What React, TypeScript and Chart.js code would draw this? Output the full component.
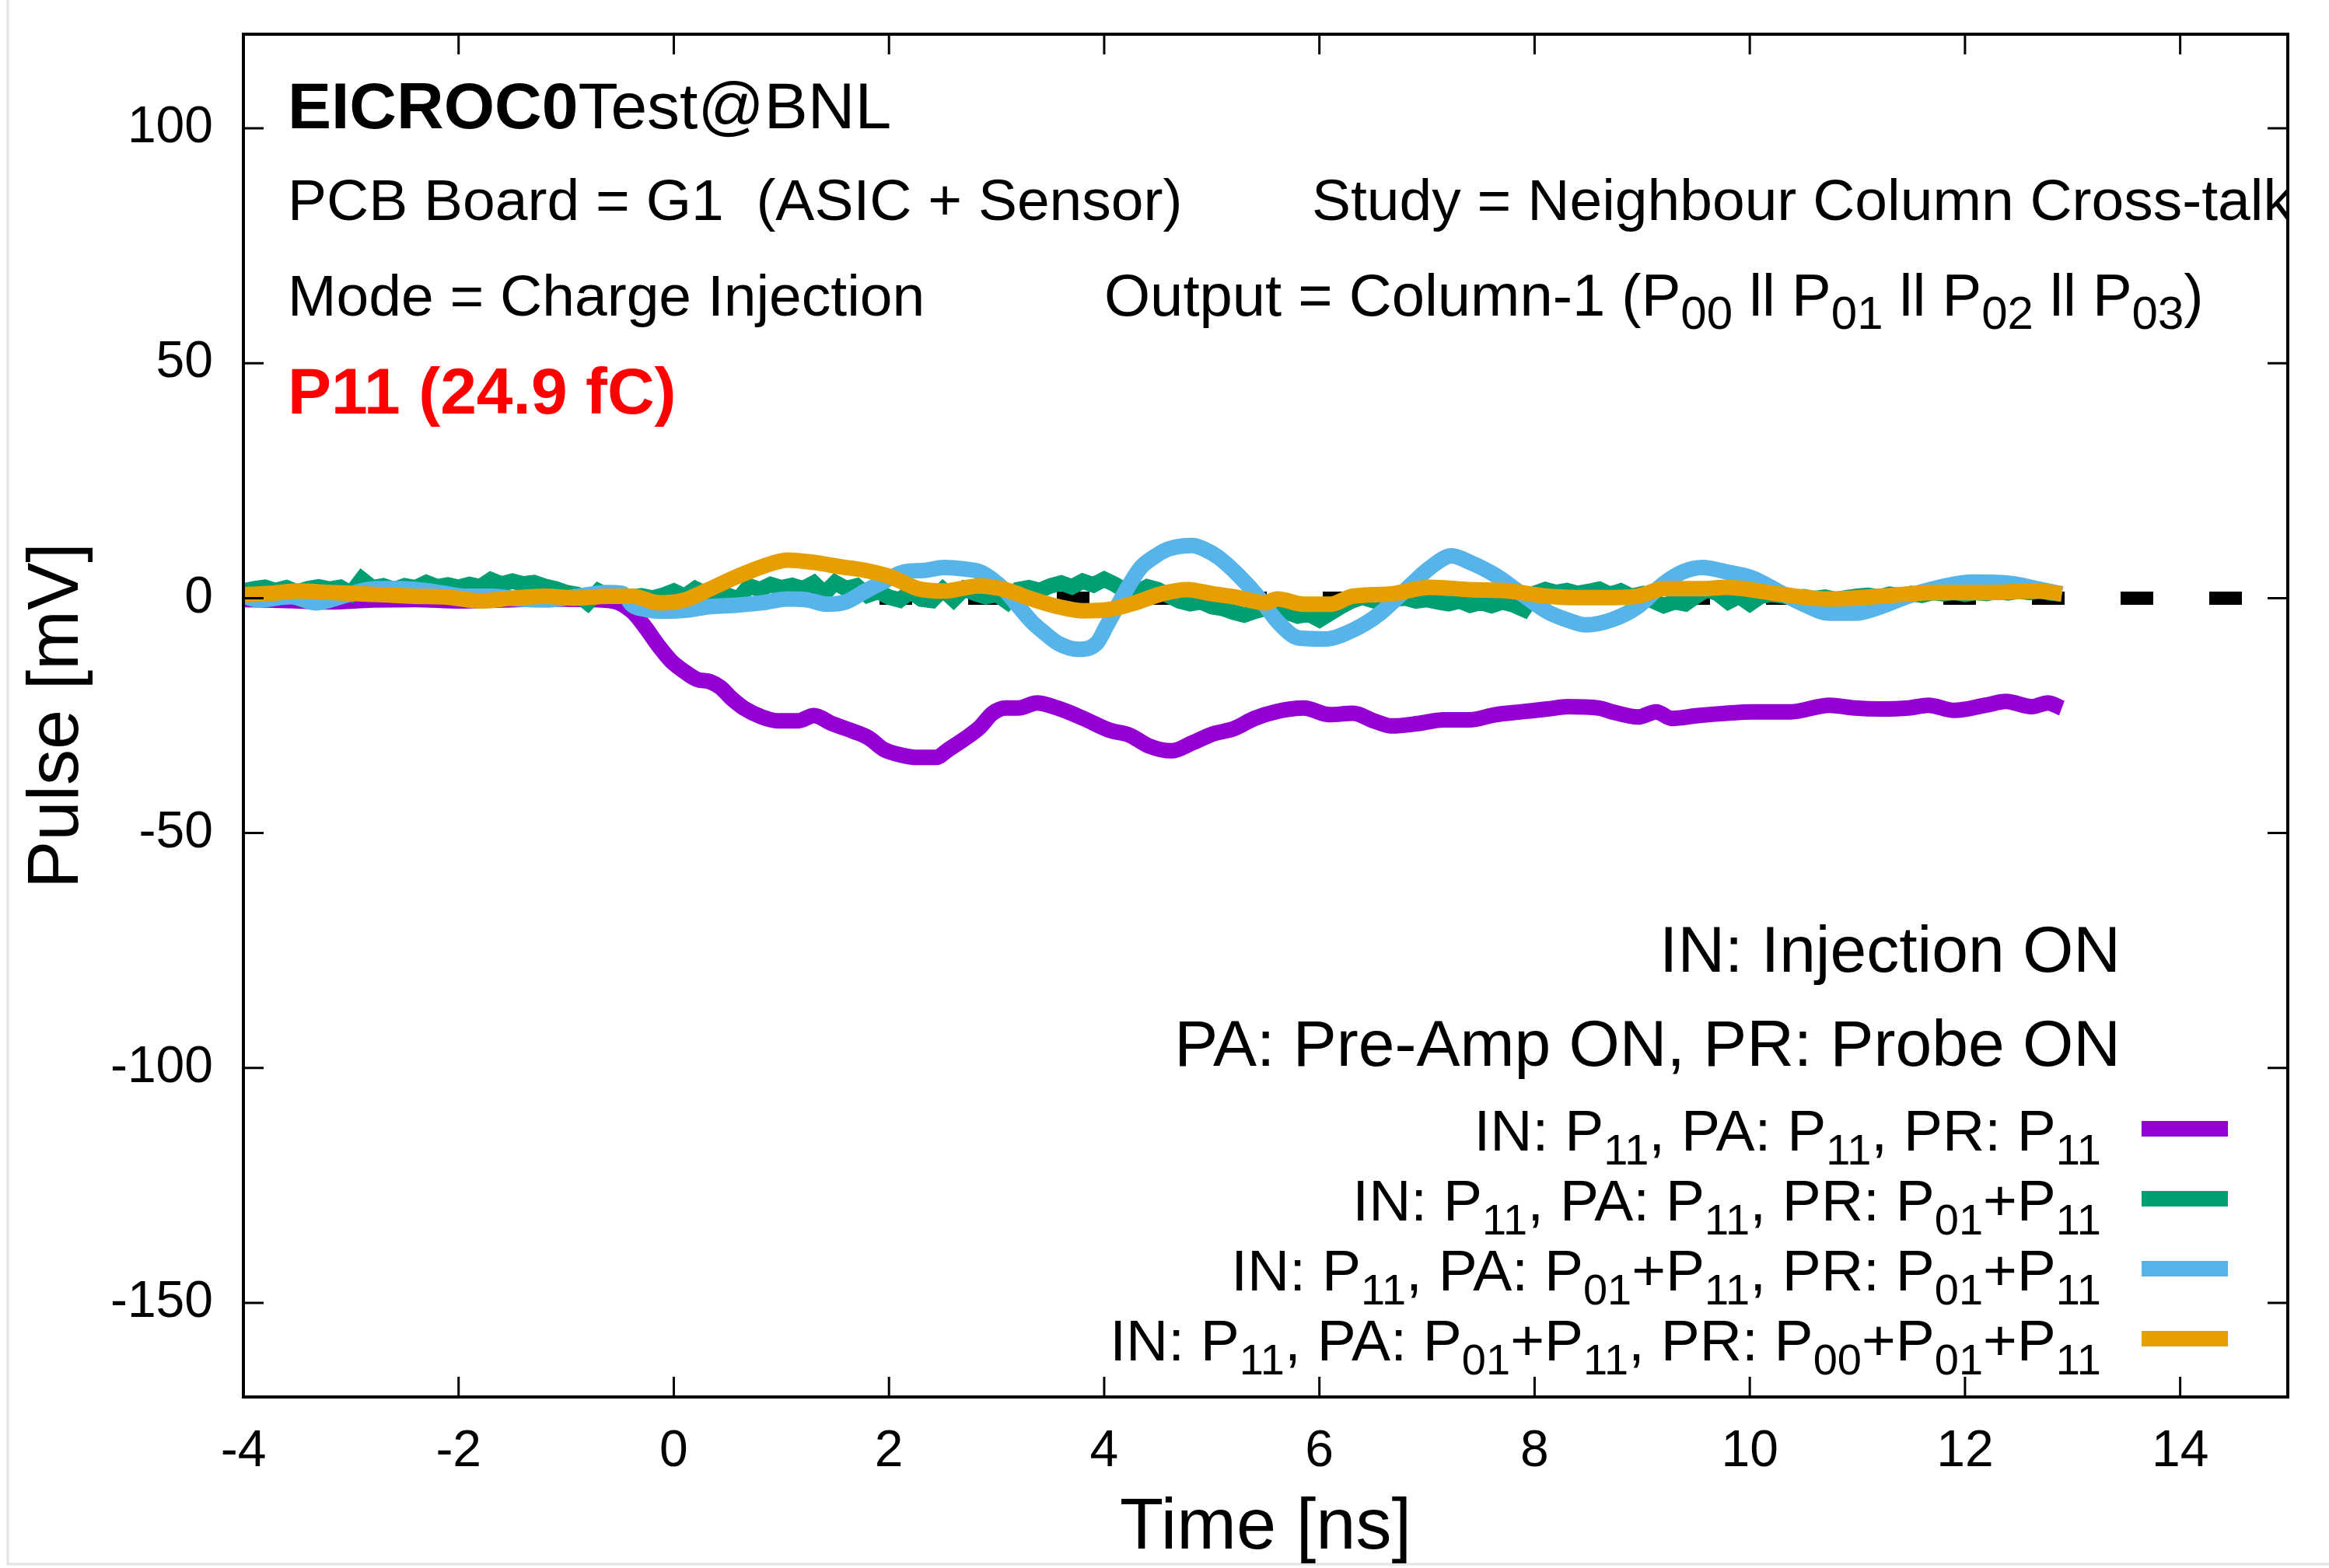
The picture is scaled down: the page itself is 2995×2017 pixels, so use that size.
import React, { useEffect, useRef } from "react";
import { Chart, registerables } from "chart.js";

Chart.register(...registerables);

const FONT = '"Liberation Sans", Arial, Helvetica, sans-serif';

// Axis ticks
const X_TICKS = [-4, -2, 0, 2, 4, 6, 8, 10, 12, 14];
const Y_TICKS = [-150, -100, -50, 0, 50, 100];
const X_RANGE = [-4, 15];
const Y_RANGE = [-170, 120];

// Zero reference line
const ZERO_T = [-4, 15];
const ZERO_V = [0, 0];

// IN: P11, PA: P11, PR: P11 (purple)
const PURPLE_T = [-4.0, -3.6, -3.2, -2.8, -2.4, -2.0, -1.6, -1.2, -0.8, -0.55, -0.385, -0.265, -0.144, -0.024, 0.097, 0.217, 0.338, 0.434, 0.53, 0.651, 0.82, 0.964, 1.157, 1.302, 1.47, 1.663, 1.808, 1.952, 2.097, 2.266, 2.434, 2.555, 2.7, 2.843, 2.963, 3.084, 3.204, 3.373, 3.566, 3.807, 4.048, 4.24, 4.409, 4.626, 4.819, 5.012, 5.204, 5.397, 5.59, 5.855, 6.096, 6.313, 6.504, 6.672, 6.913, 7.154, 7.395, 7.636, 7.877, 8.118, 8.311, 8.6, 8.72, 8.962, 9.13, 9.275, 9.516, 9.781, 10.02, 10.38, 10.74, 10.98, 11.22, 11.47, 11.66, 11.9, 12.19, 12.38, 12.62, 12.77, 12.9];
const PURPLE_V = [-0.3, -0.5, -0.8, -0.4, -0.3, -0.6, -0.4, -0.2, -0.3, -0.7, -2.9, -6.2, -10.1, -13.4, -15.6, -17.3, -17.8, -19.0, -21.2, -23.4, -25.3, -26.1, -26.1, -25.0, -26.7, -28.3, -29.7, -32.2, -33.3, -33.9, -33.9, -32.2, -30.0, -27.5, -24.5, -23.4, -23.4, -22.3, -23.4, -25.6, -28.1, -29.2, -31.4, -32.5, -30.8, -28.9, -27.8, -25.6, -24.2, -23.4, -24.8, -24.5, -26.1, -27.2, -26.7, -25.9, -25.9, -24.8, -24.2, -23.6, -23.1, -23.4, -24.2, -25.3, -24.2, -25.6, -25.0, -24.5, -24.2, -24.2, -22.8, -23.4, -23.6, -23.4, -22.8, -23.9, -22.8, -22.0, -23.1, -22.3, -23.4];

// IN: P11, PA: P11, PR: P01+P11 (green)
const GREEN_T = [
  -4.0, -3.9, -3.8, -3.7, -3.6, -3.5, -3.4, -3.3, -3.2, -3.1,
  -3.0, -2.9, -2.8, -2.7, -2.6, -2.5, -2.4, -2.3, -2.2, -2.1,
  -2.0, -1.9, -1.8, -1.7, -1.6, -1.5, -1.4, -1.3, -1.2, -1.1,
  -1.0, -0.9, -0.8, -0.7, -0.6, -0.5, -0.4, -0.3, -0.2, -0.1,
  0.0, 0.1, 0.2, 0.3, 0.4, 0.5, 0.6, 0.7, 0.8, 0.9,
  1.0, 1.1, 1.2, 1.3, 1.4, 1.5, 1.6, 1.7, 1.8, 1.9,
  2.0, 2.1, 2.2, 2.3, 2.4, 2.5, 2.6, 2.7, 2.8, 2.9,
  3.0, 3.1, 3.2, 3.3, 3.4, 3.5, 3.6, 3.7, 3.8, 3.9,
  4.0, 4.1, 4.2, 4.3, 4.4, 4.5, 4.6, 4.7, 4.8, 4.9,
  5.0, 5.1, 5.2, 5.3, 5.4, 5.5, 5.6, 5.7, 5.8, 5.9,
  6.0, 6.1, 6.2, 6.3, 6.4, 6.5, 6.6, 6.7, 6.8, 6.9,
  7.0, 7.1, 7.2, 7.3, 7.4, 7.5, 7.6, 7.7, 7.8, 7.9,
  8.0, 8.1, 8.2, 8.3, 8.4, 8.5, 8.6, 8.7, 8.8, 8.9,
  9.0, 9.1, 9.2, 9.3, 9.4, 9.5, 9.6, 9.7, 9.8, 9.9,
  10.0, 10.1, 10.2, 10.3, 10.4, 10.5, 10.6, 10.7, 10.8, 10.9,
  11.0, 11.1, 11.2, 11.3, 11.4, 11.5, 11.6, 11.7, 11.8, 11.9,
  12.0, 12.1, 12.2, 12.3, 12.4, 12.5, 12.6, 12.7, 12.8, 12.9,
];
const GREEN_V = [
  1.5, 2.0, 2.3, 1.6, 2.2, 1.3, 2.0, 2.4, 1.9, 2.3,
  1.0, 4.0, 2.2, 2.6, 1.8, 2.6, 2.2, 3.3, 2.4, 2.8,
  2.3, 2.9, 2.4, 3.9, 3.0, 3.6, 3.0, 3.3, 2.5, 2.0,
  1.2, 0.8, -1.0, 1.5, 0.4, 0.8, 0.2, 0.5, 0.0, 0.6,
  1.5, 0.4, 2.0, 0.9, 1.4, 0.6, -0.2, 2.6, 1.8, 2.9,
  2.2, 2.7, 2.0, 3.2, 1.0, 3.3, 2.0, 2.6, 0.6, 1.4,
  0.2, -0.4, 1.4, -0.2, -0.5, 1.8, -0.3, 2.0, 1.0, 0.3,
  0.8, -0.8, 1.8, 2.2, 1.6, 2.6, 3.2, 2.4, 3.6, 2.8,
  4.0, 2.9, 1.5, 1.2, 2.4, 1.8, 0.5, -0.6, -1.2, -0.8,
  -1.8, -2.2, -3.0, -3.6, -2.8, -2.2, -2.6, -3.0, -3.8, -3.4,
  -4.6, -3.2, -1.8, -0.6, 0.2, -0.5, 0.3, -0.2, 0.0, -0.6,
  -0.3, -0.8, -1.2, -0.6, -1.5, -0.9, -1.6, -0.8, -1.4, -2.4,
  1.0, 1.8, 1.2, 1.6, 1.0, 1.4, 1.9, 0.8, 1.5, 0.4,
  0.9, -0.6, -1.6, -0.8, -1.2, 0.4, 1.8, 1.0, -0.8, 0.4,
  -1.2, 0.4, 0.8, 0.5, 0.1, 0.3, -0.1, 0.2, -0.3, 0.1,
  0.4, 0.6, 0.2, 0.8, 0.5, 1.0, 0.6, 1.2, 0.9, 1.3,
  0.8, 1.2, 1.0, 1.4, 1.1, 1.5, 1.2, 1.6, 1.1, 0.9,
];

// IN: P11, PA: P01+P11, PR: P01+P11 (blue)
const BLUE_T = [-4.0, -3.85, -3.56, -3.32, -3.08, -2.77, -2.53, -2.26, -1.93, -1.68, -1.44, -1.2, -0.89, -0.626, -0.48, -0.385, -0.265, -0.1, 0.1, 0.34, 0.58, 0.82, 1.06, 1.25, 1.42, 1.6, 1.78, 1.95, 2.145, 2.33, 2.51, 2.7, 2.843, 2.96, 3.084, 3.204, 3.33, 3.45, 3.57, 3.76, 3.93, 4.02, 4.12, 4.22, 4.34, 4.46, 4.58, 4.7, 4.82, 4.94, 5.06, 5.25, 5.45, 5.615, 5.81, 6.05, 6.313, 6.55, 6.79, 7.03, 7.23, 7.4, 7.64, 7.88, 8.12, 8.3, 8.48, 8.72, 8.96, 9.2, 9.38, 9.56, 9.78, 10.02, 10.26, 10.5, 10.74, 10.98, 11.22, 11.47, 11.71, 12.07, 12.43, 12.67, 12.9];
const BLUE_V = [0.4, -0.4, 0.3, -1.0, 0.4, 2.0, 2.0, 1.5, 0.4, 0.4, -0.2, -0.4, 0.4, 1.2, 1.0, -1.5, -2.4, -2.8, -2.6, -1.8, -1.5, -1.0, -0.2, -0.4, -1.3, -0.8, 1.5, 3.5, 5.6, 5.9, 6.5, 6.2, 5.6, 4.0, 1.5, -1.8, -5.1, -7.5, -9.6, -10.9, -9.6, -6.0, -1.8, 2.3, 6.5, 8.7, 10.3, 11.0, 11.2, 10.3, 8.7, 4.8, -0.2, -5.1, -8.5, -8.7, -6.8, -3.5, 1.5, 6.5, 9.0, 7.6, 4.8, 0.9, -2.9, -4.6, -5.7, -4.6, -1.8, 3.1, 5.6, 6.5, 5.6, 4.3, 1.5, -1.3, -3.2, -3.2, -1.8, 0.4, 2.0, 3.4, 3.1, 2.0, 0.9];

// IN: P11, PA: P01+P11, PR: P00+P01+P11 (orange)
const ORANGE_T = [-4.0, -3.75, -3.49, -3.2, -2.89, -2.6, -2.41, -2.1, -1.8, -1.5, -1.2, -0.9, -0.626, -0.385, -0.14, 0.1, 0.34, 0.58, 0.82, 1.06, 1.3, 1.54, 1.78, 2.02, 2.27, 2.51, 2.84, 3.08, 3.33, 3.57, 3.81, 4.05, 4.29, 4.53, 4.77, 5.01, 5.25, 5.49, 5.61, 5.855, 6.1, 6.31, 6.67, 7.03, 7.4, 7.76, 8.12, 8.48, 8.72, 8.96, 9.2, 9.56, 9.78, 10.26, 10.74, 11.22, 11.71, 12.19, 12.67, 12.9];
const ORANGE_V = [0.7, 1.0, 1.5, 1.2, 0.9, 0.6, 0.4, 0.2, -0.6, 0.0, 0.4, 0.0, 0.4, 0.4, -1.0, -0.4, 2.0, 4.5, 6.7, 8.1, 7.6, 6.7, 5.9, 4.5, 2.0, 1.5, 2.6, 1.8, -0.2, -1.8, -2.7, -2.4, -1.0, 0.9, 1.8, 0.9, 0.1, -1.0, -0.2, -1.3, -1.3, 0.4, 0.9, 2.3, 1.8, 1.5, 0.4, 0.1, 0.1, 0.4, 2.0, 2.0, 2.3, 0.9, -0.2, 0.4, 1.2, 1.2, 1.5, 0.9];

const SERIES_COLORS = ["#9400d3", "#009e73", "#56b4e9", "#e69f00"];

type Seg = { t: string; sub?: boolean; bold?: boolean };

// Legend entries (rich text with subscripts)
const LEGEND_HEADERS = ["IN: Injection ON", "PA: Pre-Amp ON, PR: Probe ON"];
const LEGEND_ITEMS: Seg[][] = [
  [{ t: "IN: P" }, { t: "11", sub: true }, { t: ", PA: P" }, { t: "11", sub: true }, { t: ", PR: P" }, { t: "11", sub: true }],
  [{ t: "IN: P" }, { t: "11", sub: true }, { t: ", PA: P" }, { t: "11", sub: true }, { t: ", PR: P" }, { t: "01", sub: true }, { t: "+P" }, { t: "11", sub: true }],
  [{ t: "IN: P" }, { t: "11", sub: true }, { t: ", PA: P" }, { t: "01", sub: true }, { t: "+P" }, { t: "11", sub: true }, { t: ", PR: P" }, { t: "01", sub: true }, { t: "+P" }, { t: "11", sub: true }],
  [{ t: "IN: P" }, { t: "11", sub: true }, { t: ", PA: P" }, { t: "01", sub: true }, { t: "+P" }, { t: "11", sub: true }, { t: ", PR: P" }, { t: "00", sub: true }, { t: "+P" }, { t: "01", sub: true }, { t: "+P" }, { t: "11", sub: true }],
];

// Annotation texts
const TITLE_SEGS: Seg[] = [{ t: "EICROC0", bold: true }, { t: "Test@BNL" }];
const PCB_TEXT = "PCB Board = G1  (ASIC + Sensor)";
const STUDY_TEXT = "Study = Neighbour Column Cross-talk";
const MODE_TEXT = "Mode = Charge Injection";
const OUTPUT_SEGS: Seg[] = [
  { t: "Output = Column-1 (P" }, { t: "00", sub: true }, { t: " ll P" }, { t: "01", sub: true },
  { t: " ll P" }, { t: "02", sub: true }, { t: " ll P" }, { t: "03", sub: true }, { t: ")" },
];
const CHARGE_TEXT = "P11 (24.9 fC)";

function drawRich(
  ctx: CanvasRenderingContext2D,
  segs: Seg[],
  x: number,
  y: number,
  size: number,
  subSize: number,
  subDrop: number,
  align: "left" | "right",
  color: string
) {
  const fontFor = (s: Seg) => `${s.bold ? "bold " : ""}${s.sub ? subSize : size}px ${FONT}`;
  let total = 0;
  const widths: number[] = [];
  for (const s of segs) {
    ctx.font = fontFor(s);
    const w = ctx.measureText(s.t).width;
    widths.push(w);
    total += w;
  }
  let cx = align === "right" ? x - total : x;
  ctx.fillStyle = color;
  ctx.textAlign = "left";
  ctx.textBaseline = "alphabetic";
  segs.forEach((s, i) => {
    ctx.font = fontFor(s);
    ctx.fillText(s.t, cx, s.sub ? y + subDrop : y);
    cx += widths[i];
  });
}

const bgPlugin = {
  id: "bg",
  beforeDraw(chart: any) {
    const { ctx, width, height } = chart;
    ctx.save();
    ctx.fillStyle = "#ffffff";
    ctx.fillRect(0, 0, width, height);
    ctx.strokeStyle = "#e4e4e4";
    ctx.lineWidth = 3;
    ctx.beginPath();
    ctx.moveTo(10, 0);
    ctx.lineTo(10, height - 5);
    ctx.lineTo(width, height - 5);
    ctx.stroke();
    ctx.restore();
  },
};

const framePlugin = {
  id: "frame",
  afterDraw(chart: any) {
    const { ctx, chartArea: a, scales } = chart;
    ctx.save();
    ctx.strokeStyle = "#000";
    ctx.lineCap = "butt";
    ctx.lineWidth = 3;
    ctx.beginPath();
    const tl = 26;
    for (const v of X_TICKS) {
      const px = scales.x.getPixelForValue(v);
      ctx.moveTo(px, a.bottom);
      ctx.lineTo(px, a.bottom - tl);
      ctx.moveTo(px, a.top);
      ctx.lineTo(px, a.top + tl);
    }
    for (const v of Y_TICKS) {
      const py = scales.y.getPixelForValue(v);
      ctx.moveTo(a.left, py);
      ctx.lineTo(a.left + tl, py);
      ctx.moveTo(a.right, py);
      ctx.lineTo(a.right - tl, py);
    }
    ctx.stroke();
    ctx.lineWidth = 4;
    ctx.strokeRect(a.left, a.top, a.right - a.left, a.bottom - a.top);
    ctx.restore();
  },
};

const textPlugin = {
  id: "texts",
  afterDraw(chart: any) {
    const { ctx, chartArea: a } = chart;
    ctx.save();
    ctx.beginPath();
    ctx.rect(a.left, a.top, a.right - a.left, a.bottom - a.top);
    ctx.clip();
    const L = a.left + 57;
    drawRich(ctx, TITLE_SEGS, L, a.top + 121, 84, 60, 16, "left", "#000");
    drawRich(ctx, [{ t: PCB_TEXT }], L, a.top + 239, 75, 54, 16, "left", "#000");
    drawRich(ctx, [{ t: STUDY_TEXT }], a.left + 1374, a.top + 239, 75, 54, 16, "left", "#000");
    drawRich(ctx, [{ t: MODE_TEXT }], L, a.top + 362, 75, 54, 16, "left", "#000");
    drawRich(ctx, OUTPUT_SEGS, a.left + 1107, a.top + 362, 76, 60, 17, "left", "#000");
    drawRich(ctx, [{ t: CHARGE_TEXT, bold: true }], L, a.top + 488, 84, 60, 16, "left", "#ff0000");

    // legend
    const hx = a.right - 215;
    drawRich(ctx, [{ t: LEGEND_HEADERS[0] }], hx, a.bottom - 547, 84, 60, 16, "right", "#000");
    drawRich(ctx, [{ t: LEGEND_HEADERS[1] }], hx, a.bottom - 426, 84, 60, 16, "right", "#000");
    const ix = a.right - 240;
    LEGEND_ITEMS.forEach((segs, i) => {
      const by = a.bottom - 317 + i * 90;
      drawRich(ctx, segs, ix, by, 75, 56, 18, "right", "#000");
      ctx.strokeStyle = SERIES_COLORS[i];
      ctx.lineWidth = 20;
      ctx.lineCap = "butt";
      ctx.beginPath();
      ctx.moveTo(a.right - 188, by - 28);
      ctx.lineTo(a.right - 77, by - 28);
      ctx.stroke();
    });
    ctx.restore();
  },
};

function pts(t: number[], v: number[]) {
  return t.map((x, i) => ({ x, y: v[i] }));
}

export default function App() {
  const ref = useRef<HTMLCanvasElement | null>(null);

  useEffect(() => {
    if (!ref.current) return;
    const common = { pointRadius: 0, pointHoverRadius: 0, clip: 0, fill: false };
    const chart = new Chart(ref.current, {
      type: "line",
      data: {
        datasets: [
          {
            ...common,
            label: "zero",
            data: pts(ZERO_T, ZERO_V),
            borderColor: "#000",
            borderWidth: 17,
            borderDash: [42, 72],
            borderDashOffset: 94,
            borderCapStyle: "butt",
            order: 5,
            tension: 0,
          },
          {
            ...common,
            label: "purple",
            data: pts(PURPLE_T, PURPLE_V),
            borderColor: SERIES_COLORS[0],
            borderWidth: 20,
            borderJoinStyle: "round",
            cubicInterpolationMode: "monotone",
            order: 4,
          },
          {
            ...common,
            label: "green",
            data: pts(GREEN_T, GREEN_V),
            borderColor: SERIES_COLORS[1],
            borderWidth: 20,
            borderJoinStyle: "miter",
            tension: 0,
            order: 3,
          },
          {
            ...common,
            label: "blue",
            data: pts(BLUE_T, BLUE_V),
            borderColor: SERIES_COLORS[2],
            borderWidth: 20,
            borderJoinStyle: "round",
            cubicInterpolationMode: "monotone",
            order: 2,
          },
          {
            ...common,
            label: "orange",
            data: pts(ORANGE_T, ORANGE_V),
            borderColor: SERIES_COLORS[3],
            borderWidth: 20,
            borderJoinStyle: "round",
            cubicInterpolationMode: "monotone",
            order: 1,
          },
        ] as any,
      },
      options: {
        responsive: false,
        maintainAspectRatio: false,
        animation: false,
        devicePixelRatio: 1,
        events: [],
        layout: { padding: { top: 44, right: 53, bottom: 0, left: 0 } },
        plugins: {
          legend: { display: false },
          tooltip: { enabled: false },
          title: { display: false },
        },
        scales: {
          x: {
            type: "linear",
            min: X_RANGE[0],
            max: X_RANGE[1],
            afterBuildTicks: (s: any) => {
              s.ticks = X_TICKS.map((v) => ({ value: v }));
            },
            afterFit: (s: any) => {
              s.height = 220;
              s.paddingLeft = 0;
              s.paddingRight = 0;
              s.paddingTop = 0;
              s.paddingBottom = 0;
            },
            grid: { display: false, drawTicks: false },
            border: { display: false },
            ticks: {
              color: "#000",
              font: { family: FONT, size: 66, lineHeight: 1 },
              padding: 38,
              maxRotation: 0,
              autoSkip: false,
              callback: (v: any) => String(v),
            },
            title: {
              display: true,
              text: "Time [ns]",
              color: "#000",
              font: { family: FONT, size: 92, lineHeight: 1 },
              padding: { top: 0, bottom: 4 },
            },
          },
          y: {
            type: "linear",
            min: Y_RANGE[0],
            max: Y_RANGE[1],
            afterBuildTicks: (s: any) => {
              s.ticks = Y_TICKS.map((v) => ({ value: v }));
            },
            afterFit: (s: any) => {
              s.width = 313;
              s.paddingLeft = 0;
              s.paddingRight = 0;
              s.paddingTop = 0;
              s.paddingBottom = 0;
            },
            grid: { display: false, drawTicks: false },
            border: { display: false },
            ticks: {
              color: "#000",
              font: { family: FONT, size: 66, lineHeight: 1 },
              padding: 39,
              autoSkip: false,
              callback: (v: any) => String(v),
            },
            title: {
              display: true,
              text: "Pulse [mV]",
              color: "#000",
              font: { family: FONT, size: 92, lineHeight: 1 },
              padding: { top: 29, bottom: 0 },
            },
          },
        },
      } as any,
      plugins: [bgPlugin, framePlugin, textPlugin],
    });
    return () => chart.destroy();
  }, []);

  return (
    <div style={{ position: "fixed", left: 0, top: 0, width: 2995, height: 2017, background: "#fff" }}>
      <canvas ref={ref} width={2995} height={2017} style={{ display: "block", width: 2995, height: 2017 }} />
    </div>
  );
}
